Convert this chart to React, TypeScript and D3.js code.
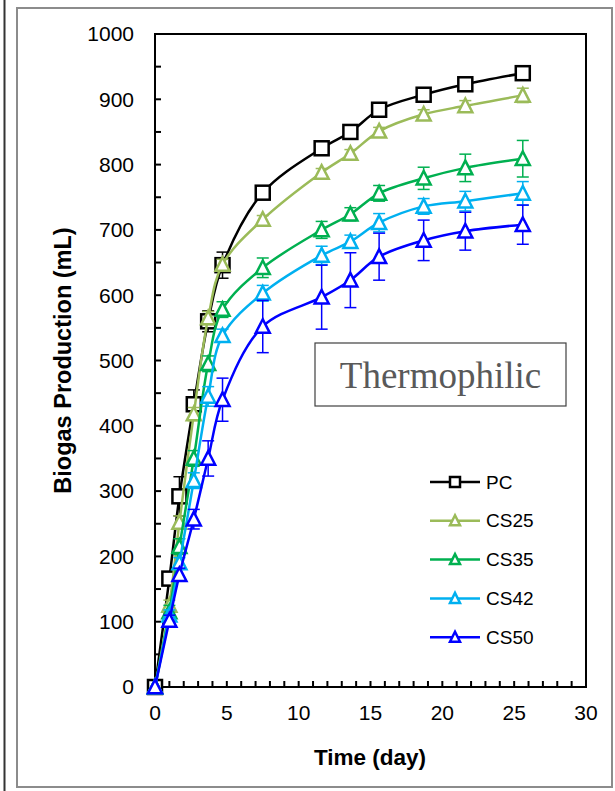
import * as d3 from "d3";

const width = 615;
const height = 791;

// time axis (day)
const times = [0, 1, 1.7, 2.7, 3.7, 4.7, 7.5, 11.6, 13.6, 15.6, 18.7, 21.6, 25.6];

// biogas production (mL) and error bars
const pc = [0, 166, 292, 433, 560, 646, 757, 825, 850, 884, 907, 923, 940];
const pcErr = [0, 5, 30, 22, 16, 20, 5, 5, 5, 5, 5, 5, 5];
const cs25 = [0, 125, 252, 418, 565, 647, 716, 788, 817, 851, 877, 890, 906];
const cs25Err = [0, 8, 10, 10, 10, 8, 6, 6, 6, 6, 7, 8, 11];
const cs35 = [0, 115, 215, 350, 495, 578, 642, 700, 724, 756, 779, 795, 809];
const cs35Err = [0, 10, 12, 12, 12, 12, 15, 13, 10, 12, 17, 21, 28];
const cs42 = [0, 110, 190, 316, 445, 538, 603, 661, 682, 711, 736, 744, 756];
const cs42Err = [0, 8, 8, 12, 15, 10, 12, 14, 10, 14, 12, 15, 18];
const cs50 = [0, 102, 172, 257, 350, 440, 552, 597, 623, 659, 684, 698, 708];
const cs50Err = [0, 8, 10, 15, 27, 33, 40, 49, 42, 36, 31, 29, 30];

const seriesNames = ["PC", "CS25", "CS35", "CS42", "CS50"];
const seriesColors = ["#000000", "#9BBB59", "#00B050", "#00B0F0", "#0000FF"];
const seriesShapes = ["square", "triangle", "triangle", "triangle", "triangle"];

const xTicks = [0, 5, 10, 15, 20, 25, 30];
const yTicks = [0, 100, 200, 300, 400, 500, 600, 700, 800, 900, 1000];

const series = [
  { values: pc, errors: pcErr },
  { values: cs25, errors: cs25Err },
  { values: cs35, errors: cs35Err },
  { values: cs42, errors: cs42Err },
  { values: cs50, errors: cs50Err },
].map((s, i) => ({
  ...s,
  name: seriesNames[i],
  color: seriesColors[i],
  shape: seriesShapes[i],
}));

const plot = { left: 155, right: 586, top: 34, bottom: 687 };

const x = d3.scaleLinear().domain([0, 30]).range([plot.left, plot.right]);
const y = d3.scaleLinear().domain([0, 1000]).range([plot.bottom, plot.top]);

const font = "'Liberation Sans', Arial, sans-serif";

const Marker = ({ shape, cx, cy, color, size }) => {
  if (shape === "square") {
    return (
      <rect
        x={cx - size / 2}
        y={cy - size / 2}
        width={size}
        height={size}
        fill="white"
        stroke={color}
        strokeWidth={2.5}
      />
    );
  }
  const h = size * 0.9;
  const pts = [
    [cx, cy - h / 2 - 1],
    [cx - size / 2, cy + h / 2],
    [cx + size / 2, cy + h / 2],
  ];
  return (
    <polygon
      points={pts.map((p) => p.join(",")).join(" ")}
      fill="white"
      stroke={color}
      strokeWidth={2.5}
      strokeLinejoin="miter"
    />
  );
};

export default function App() {
  const line = d3
    .line<number>()
    .x((_, i) => x(times[i]))
    .y((d) => y(d))
    .curve(d3.curveCatmullRom.alpha(0.5));

  const minorY = d3.range(50, 1000, 100);
  const minorX = d3.range(0, 31, 1);

  const legendX = 430;
  const legendY0 = 482;
  const legendStep = 38.8;

  return (
    <svg
      width={width}
      height={height}
      style={{ position: "absolute", left: 0, top: 0, background: "white" }}
    >
      {/* neighbour panel edge and outer frame */}
      <line x1={4.5} x2={4.5} y1={0} y2={791} stroke="#333" strokeWidth={2} />
      <rect x={17} y={8} width={595} height={779} fill="none" stroke="#8c8c8c" strokeWidth={2} />

      {/* plot box */}
      <rect
        x={plot.left}
        y={plot.top}
        width={plot.right - plot.left}
        height={plot.bottom - plot.top}
        fill="white"
        stroke="black"
        strokeWidth={2}
      />

      {/* y ticks */}
      {yTicks.map((t) => (
        <g key={"y" + t}>
          <line x1={plot.left} x2={plot.left + 6} y1={y(t)} y2={y(t)} stroke="black" strokeWidth={2} />
          <text
            x={134}
            y={y(t)}
            dy="0.35em"
            textAnchor="end"
            fontFamily={font}
            fontSize={21}
          >
            {t}
          </text>
        </g>
      ))}
      {minorY.map((t) => (
        <line key={"my" + t} x1={plot.left} x2={plot.left + 6} y1={y(t)} y2={y(t)} stroke="black" strokeWidth={2} />
      ))}

      {/* x ticks */}
      {minorX.map((t) => (
        <line key={"mx" + t} x1={x(t)} x2={x(t)} y1={plot.bottom} y2={plot.bottom - 6} stroke="black" strokeWidth={2} />
      ))}
      {xTicks.map((t) => (
        <text
          key={"x" + t}
          x={x(t)}
          y={713}
          dy="0.35em"
          textAnchor="middle"
          fontFamily={font}
          fontSize={21}
        >
          {t}
        </text>
      ))}

      {/* axis titles */}
      <text
        x={370}
        y={757}
        dy="0.35em"
        textAnchor="middle"
        fontFamily={font}
        fontWeight="bold"
        fontSize={22.5}
      >
        Time (day)
      </text>
      <text
        transform={`translate(63,${(plot.top + plot.bottom) / 2}) rotate(-90)`}
        textAnchor="middle"
        dy="0.35em"
        fontFamily={font}
        fontWeight="bold"
        fontSize={23.5}
      >
        Biogas Production (mL)
      </text>

      {/* series */}
      {series.map((s) => (
        <g key={s.name}>
          <path d={line(s.values) ?? ""} fill="none" stroke={s.color} strokeWidth={2.5} />
          {s.values.map((v, i) =>
            s.errors[i] > 0 ? (
              <g key={i} stroke={s.color} strokeWidth={1.5}>
                <line x1={x(times[i])} x2={x(times[i])} y1={y(v - s.errors[i])} y2={y(v + s.errors[i])} />
                <line x1={x(times[i]) - 6} x2={x(times[i]) + 6} y1={y(v + s.errors[i])} y2={y(v + s.errors[i])} />
                <line x1={x(times[i]) - 6} x2={x(times[i]) + 6} y1={y(v - s.errors[i])} y2={y(v - s.errors[i])} />
              </g>
            ) : null
          )}
          {s.values.map((v, i) => (
            <Marker key={"m" + i} shape={s.shape} cx={x(times[i])} cy={y(v)} color={s.color} size={14} />
          ))}
        </g>
      ))}

      {/* Thermophilic label */}
      <rect x={315} y={343} width={251} height={63} fill="white" stroke="#404040" strokeWidth={1.2} />
      <text
        x={440.5}
        y={375}
        dy="0.35em"
        textAnchor="middle"
        fontFamily="'Liberation Serif', 'Times New Roman', serif"
        fontSize={37}
        fill="#595959"
      >
        Thermophilic
      </text>

      {/* legend */}
      {series.map((s, i) => {
        const ly = legendY0 + i * legendStep;
        return (
          <g key={"leg" + s.name}>
            <line x1={legendX} x2={legendX + 50} y1={ly} y2={ly} stroke={s.color} strokeWidth={2.5} />
            <Marker shape={s.shape} cx={legendX + 25} cy={ly} color={s.color} size={10} />
            <text x={legendX + 56} y={ly} dy="0.35em" fontFamily={font} fontSize={19}>
              {s.name}
            </text>
          </g>
        );
      })}
    </svg>
  );
}
